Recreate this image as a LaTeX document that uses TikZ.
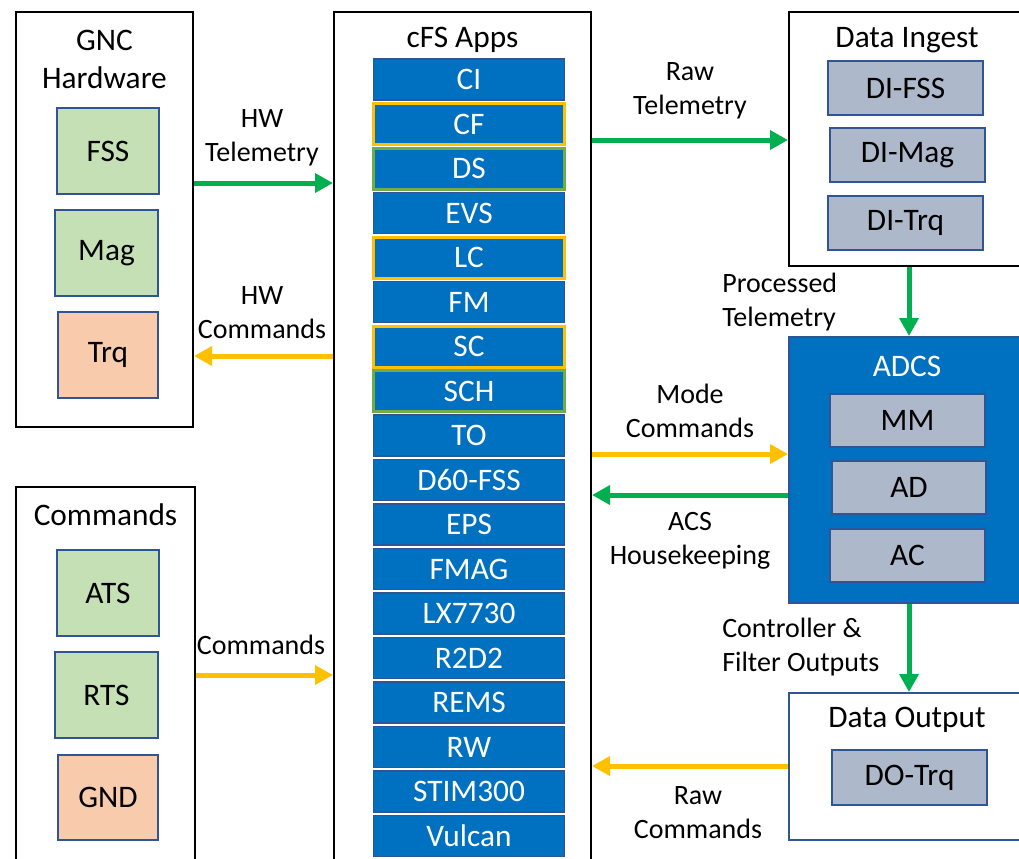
\documentclass[tikz,border=0pt]{standalone}
\usepackage{fontspec}
\setmainfont{Carlito}
\usetikzlibrary{arrows.meta}
\definecolor{appblue}{HTML}{0070C0}
\definecolor{bblue}{HTML}{2F5597}
\definecolor{ygold}{HTML}{FFC000}
\definecolor{ggreen}{HTML}{70AD47}
\definecolor{agreen}{HTML}{00B050}
\definecolor{lgreen}{HTML}{C5E0B4}
\definecolor{peach}{HTML}{F8CBAD}
\definecolor{gblue}{HTML}{ADB9CA}
\tikzset{
  sz/.style 2 args={minimum width=#1*0.75pt, minimum height=#2*0.75pt, inner sep=0pt},
  big/.style={font=\fontsize{23.5pt}{28.5pt}\selectfont},
  lab/.style={font=\fontsize{21pt}{25.5pt}\selectfont, align=center, inner sep=0pt},
  outer/.style={draw=black, line width=1.5pt, fill=white},
  hwbox/.style={draw=bblue, line width=1.5pt, big},
  gbox/.style={draw=bblue, line width=1.5pt, fill=gblue, big},
  appbox/.style={fill=appblue, text=white, big, line width=1.2pt},
  garrow/.style={draw=agreen, line width=3.75pt, -{Triangle[length=13.5pt,width=14pt]}},
  yarrow/.style={draw=ygold, line width=3.75pt, -{Triangle[length=13.5pt,width=14pt]}},
}
\begin{document}
\begin{tikzpicture}[x=0.75pt,y=-0.75pt]
\clip (0,0) rectangle (1019,858);
\useasboundingbox (0,0) rectangle (1019,858);
\fill[white] (0,0) rectangle (1019,858);

% outer boxes
\node[outer, sz={177}{415}] (gnc) at (104.5,219.5) {};
\node[outer, sz={179}{400}] (cmd) at (105.5,687) {};
\node[outer, sz={257}{870}] (cfs) at (462.5,447) {};
\node[outer, sz={240}{254}] (di) at (909,139) {};
\node[draw=bblue, line width=1.5pt, fill=appblue, sz={240}{266}] (adcs) at (909,470) {};
\node[draw=bblue, line width=1.5pt, fill=white, sz={240}{147}] (dout) at (909,766.5) {};

% titles
\node[big, align=center] (gnct) at (104.5,59) {GNC\\Hardware};
\node[big] (cmdt) at (105.5,515) {Commands};
\node[big] (cfst) at (462.5,40) {cFS Apps};
\node[big] (dit) at (907,40) {Data Ingest};
\node[big, text=white] (adcst) at (907,366) {ADCS};
\node[big] (doutt) at (907,720) {Data Output};

% GNC hardware items
\node[hwbox, fill=lgreen, sz={102}{86}] (fss) at (108,151) {FSS};
\node[hwbox, fill=lgreen, sz={103}{86}] (mag) at (106.5,253) {Mag};
\node[hwbox, fill=peach, sz={100}{86}] (trq) at (108,355) {Trq};

% Commands items
\node[hwbox, fill=lgreen, sz={102}{86}] (ats) at (108,593) {ATS};
\node[hwbox, fill=lgreen, sz={103}{86}] (rts) at (106.5,695) {RTS};
\node[hwbox, fill=peach, sz={100}{85}] (gnd) at (108,797.5) {GND};

% Data ingest items
\node[gbox, sz={155}{54}] (difss) at (905.5,88) {DI-FSS};
\node[gbox, sz={155}{54}] (dimag) at (907.5,155) {DI-Mag};
\node[gbox, sz={155}{54}] (ditrq) at (905.5,223) {DI-Trq};

% ADCS items
\node[gbox, sz={155}{53}] (mm) at (907.5,420.5) {MM};
\node[gbox, sz={154}{53}] (ad) at (909,487.5) {AD};
\node[gbox, sz={155}{53}] (ac) at (907.5,555.5) {AC};

% Data output item
\node[gbox, sz={155}{55}] (dotrq) at (909.5,777.5) {DO-Trq};

% cFS apps
\foreach \t/\c/\w [count=\i from 0] in {CI/bblue/1.2pt, CF/ygold/2.25pt, DS/ggreen/2.25pt, EVS/bblue/1.2pt, LC/ygold/2.25pt, FM/bblue/1.2pt, SC/ygold/2.25pt, SCH/ggreen/2.25pt, TO/bblue/1.2pt, D60-FSS/bblue/1.2pt, EPS/bblue/1.2pt, FMAG/bblue/1.2pt, LX7730/bblue/1.2pt, R2D2/bblue/1.2pt, REMS/bblue/1.2pt, RW/bblue/1.2pt, STIM300/bblue/1.2pt, Vulcan/bblue/1.2pt}{
  \node[appbox, draw=\c, line width=\w, sz={191}{41}] (app\i) at (469,{79.5+44.5*\i}) {\t};
}

% arrows
\draw[garrow] (gnc.east |- 0,183) -- (cfs.west |- 0,183);
\draw[yarrow] (cfs.west |- 0,356) -- (gnc.east |- 0,356);
\draw[yarrow] (cmd.east |- 0,675) -- (cfs.west |- 0,675);
\draw[garrow] (cfs.east |- 0,140) -- (di.west |- 0,140);
\draw[garrow] (909,0 |- di.south) -- (909,0 |- adcs.north);
\draw[yarrow] (cfs.east |- 0,454) -- (adcs.west |- 0,454);
\draw[garrow] (adcs.west |- 0,495) -- (cfs.east |- 0,495);
\draw[garrow] (909,0 |- adcs.south) -- (909,0 |- dout.north);
\draw[yarrow] (dout.west |- 0,766) -- (cfs.east |- 0,766);

% labels
\node[lab] (l1) at (262,137.5) {HW\\Telemetry};
\node[lab] (l2) at (262,313) {HW\\Commands};
\node[lab] (l3) at (261,645) {Commands};
\node[lab] (l4) at (690,91) {Raw\\Telemetry};
\node[lab, anchor=west, align=left] (l5) at (722,302) {Processed\\Telemetry};
\node[lab] (l6) at (690,411) {Mode\\Commands};
\node[lab] (l7) at (690,541) {ACS\\Housekeeping};
\node[lab, anchor=west, align=left] (l8) at (722,647) {Controller \&\\Filter Outputs};
\node[lab] (l9) at (698,813) {Raw\\Commands};
\end{tikzpicture}
\end{document}
